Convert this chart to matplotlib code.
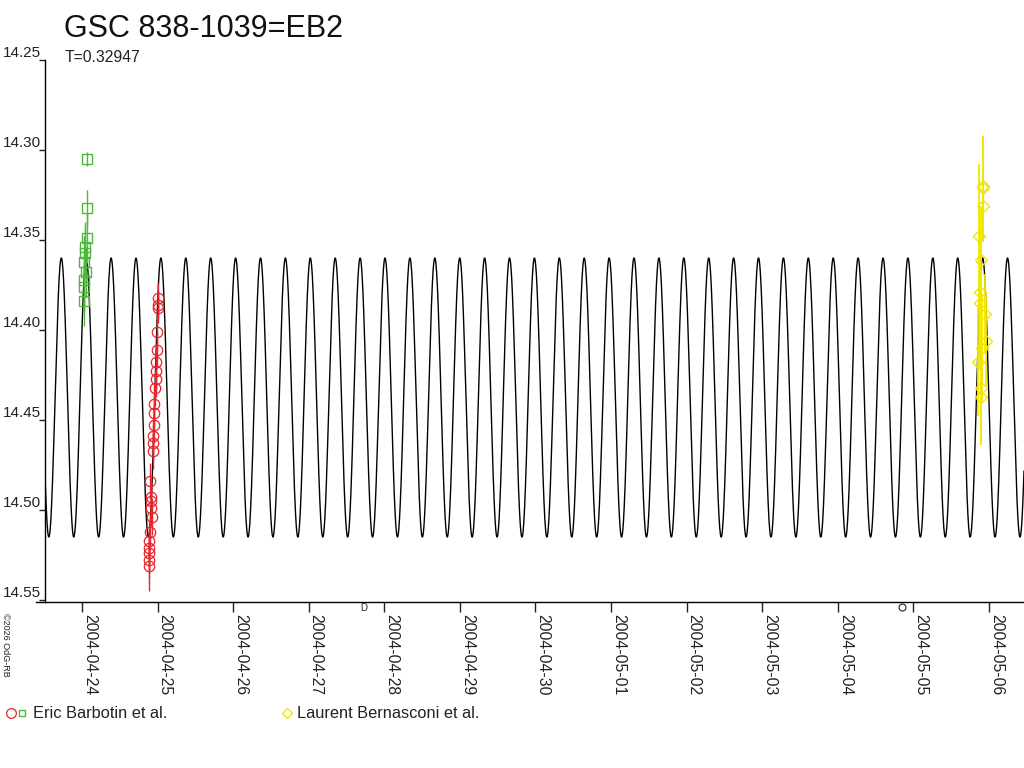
import numpy as np
import pandas as pd
import matplotlib
matplotlib.use("Agg")
import matplotlib.pyplot as plt
import matplotlib.dates as mdates
from matplotlib.lines import Line2D

plt.rcParams['font.family'] = ['Liberation Sans', 'DejaVu Sans']

# ---------------- data ----------------
title = "GSC 838-1039=EB2"
period_label = "T=0.32947"
period = 0.32947          # days
epoch = "2004-04-24 01:20"  # time of maximum brightness (model)
mag_mean = 14.4375
mag_amp = 0.0775

green_times = ["2004-04-24 00:32", "2004-04-24 00:33", "2004-04-24 00:34",
               "2004-04-24 01:10", "2004-04-24 00:38", "2004-04-24 00:57",
               "2004-04-24 00:58", "2004-04-24 01:35", "2004-04-24 01:34",
               "2004-04-24 01:30"]
green_mags = [14.384, 14.376, 14.372, 14.368, 14.362, 14.357, 14.354,
              14.349, 14.332, 14.305]
green_errs = [0.014, 0.014, 0.014, 0.014, 0.014, 0.014, 0.014, 0.014,
              0.010, 0.004]

red_times = ["2004-04-24 21:18", "2004-04-24 21:20", "2004-04-24 21:21",
             "2004-04-24 21:22", "2004-04-24 21:24", "2004-04-24 21:32",
             "2004-04-24 22:19", "2004-04-24 21:54", "2004-04-24 21:56",
             "2004-04-24 21:57", "2004-04-24 21:36", "2004-04-24 22:36",
             "2004-04-24 22:38", "2004-04-24 22:40", "2004-04-24 22:56",
             "2004-04-24 22:57", "2004-04-24 22:58", "2004-04-24 23:08",
             "2004-04-24 23:28", "2004-04-24 23:30", "2004-04-24 23:31",
             "2004-04-24 23:42", "2004-04-24 23:44", "2004-04-25 00:00",
             "2004-04-25 00:02", "2004-04-25 00:03"]
red_mags = [14.531, 14.528, 14.524, 14.521, 14.517, 14.512, 14.504,
            14.499, 14.495, 14.493, 14.484, 14.467, 14.463, 14.459,
            14.453, 14.446, 14.441, 14.432, 14.427, 14.423, 14.418,
            14.411, 14.401, 14.388, 14.386, 14.382]
red_errs = [0.014, 0.010, 0.010, 0.010, 0.010, 0.010, 0.010, 0.010,
            0.010, 0.010, 0.010, 0.010, 0.010, 0.010, 0.010, 0.010,
            0.010, 0.010, 0.010, 0.010, 0.010, 0.010, 0.010, 0.008,
            0.008, 0.008]

yellow_times = ["2004-05-05 22:12", "2004-05-05 22:15", "2004-05-05 21:58",
                "2004-05-05 20:44", "2004-05-05 21:35", "2004-05-05 21:11",
                "2004-05-05 21:13", "2004-05-05 22:44", "2004-05-05 23:05",
                "2004-05-05 21:52", "2004-05-05 20:37", "2004-05-05 21:26",
                "2004-05-05 21:28"]
yellow_mags = [14.320, 14.321, 14.331, 14.348, 14.361, 14.379, 14.385,
               14.391, 14.406, 14.410, 14.418, 14.432, 14.437]
yellow_errs = [0.028, 0.028, 0.020, 0.040, 0.030, 0.043, 0.030, 0.022,
               0.025, 0.030, 0.030, 0.030, 0.027]

moon_times = ["2004-04-27 17:32", "2004-05-04 20:33"]
moon_symbols = ["D", "O"]

y_ticks = [14.25, 14.30, 14.35, 14.40, 14.45, 14.50, 14.55]
x_range = ("2004-04-23 12:15", "2004-05-06 11:08")
y_range = (14.5511, 14.25)
tick_days = pd.date_range("2004-04-24", "2004-05-06", freq="D")

legend_entries = ["Eric Barbotin et al.", "Laurent Bernasconi et al."]
copyright_text = "\u00a92026 OdG-RB"

# ---------------- figure ----------------
W, H = 1024, 768
fig = plt.figure(figsize=(W / 100, H / 100), dpi=100)
fig.patch.set_facecolor("white")
ax = fig.add_axes([45 / W, 166 / H, (W - 45) / W, (602 - 60) / H])

def to_num(lst):
    return mdates.date2num(pd.to_datetime(lst))

x0, x1 = to_num(list(x_range))
t = np.linspace(x0, x1, 8000)
t_ep = to_num([epoch])[0]
model = mag_mean - mag_amp * np.cos(2 * np.pi * (t - t_ep) / period)
ax.plot(t, model, color="black", lw=1.0, zorder=2)

GREEN = "#4fb83c"
RED = "#e8242c"
YELLOW = "#f2e600"

gx = to_num(green_times)
ax.errorbar(gx, green_mags, yerr=green_errs, fmt="none", ecolor=GREEN,
            elinewidth=1.0, capsize=0, zorder=3)
ax.plot(gx, green_mags, ls="none", marker="s", ms=6.5, mfc="none",
        mec=GREEN, mew=1.0, zorder=4)

rx = to_num(red_times)
ax.errorbar(rx, red_mags, yerr=red_errs, fmt="none", ecolor=RED,
            elinewidth=1.0, capsize=0, zorder=3)
ax.plot(rx, red_mags, ls="none", marker="o", ms=7.5, mfc="none",
        mec=RED, mew=0.9, zorder=4)

yx = to_num(yellow_times)
ax.errorbar(yx, yellow_mags, yerr=yellow_errs, fmt="none", ecolor=YELLOW,
            elinewidth=1.3, capsize=0, zorder=3)
ax.plot(yx, yellow_mags, ls="none", marker="D", ms=6, mfc="none",
        mec=YELLOW, mew=1.0, zorder=4)

ax.set_xlim(x0, x1)
ax.set_ylim(*y_range)

# spines
for s in ["top", "right"]:
    ax.spines[s].set_visible(False)
for s in ["left", "bottom"]:
    ax.spines[s].set_linewidth(1.0)
    ax.spines[s].set_color("black")

# y ticks
ax.set_yticks(y_ticks)
ax.set_yticklabels([f"{v:.2f}" for v in y_ticks])
ax.tick_params(axis="y", direction="out", length=4, width=1.0, pad=-1,
               labelsize=11, colors="#222222")
for lbl in ax.get_yticklabels():
    lbl.set_verticalalignment("bottom")

# x ticks
ax.set_xticks(mdates.date2num(tick_days))
ax.xaxis.set_major_formatter(mdates.DateFormatter("%Y-%m-%d"))
ax.tick_params(axis="x", direction="out", length=7.5, width=1.0, pad=1,
               labelsize=11.3, colors="#222222")
for lbl in ax.get_xticklabels():
    lbl.set_rotation(-90)
    lbl.set_horizontalalignment("left")
    lbl.set_verticalalignment("top")
    lbl.set_rotation_mode("default")

# moon phase marks under axis
mx = to_num(moon_times)
for xv, sym in zip(mx, moon_symbols):
    if sym == "O":
        ax.plot([xv], [y_range[0] + 5 / 1800], marker="o", ms=5, mfc="none",
                mec="#222222", mew=0.8, clip_on=False, zorder=5)
    else:
        ax.text(xv, y_range[0] + 1 / 1800, sym, fontsize=7, ha="center",
                va="top", color="#222222", clip_on=False)

# extend bottom axis line slightly left
fig.add_artist(Line2D([36 / W, 45 / W], [1 - 602 / H, 1 - 602 / H],
                      color="black", lw=1.0, transform=fig.transFigure))

# title texts
fig.text(64 / W, 1 - 37 / H, title, fontsize=22, ha="left",
         va="baseline", color="#111111")
fig.text(65 / W, 1 - 62 / H, period_label, fontsize=11.3, ha="left",
         va="baseline", color="#222222")

# copyright
fig.text(5 / W, 1 - 613 / H, copyright_text, fontsize=6.5, rotation=-90,
         ha="center", va="top", color="#222222")

# legend
ly = 1 - 713 / H
fig.add_artist(Line2D([11 / W], [ly], marker="o", ms=7, mfc="none",
                      mec=RED, mew=0.9, transform=fig.transFigure))
fig.add_artist(Line2D([22 / W], [ly], marker="s", ms=5, mfc="none",
                      mec=GREEN, mew=1.0, transform=fig.transFigure))
fig.text(33 / W, ly, legend_entries[0], fontsize=11.8, ha="left",
         va="center", color="#222222")
fig.add_artist(Line2D([287 / W], [ly], marker="D", ms=5, mfc="none",
                      mec=YELLOW, mew=1.0, transform=fig.transFigure))
fig.text(297 / W, ly, legend_entries[1], fontsize=11.8, ha="left",
         va="center", color="#222222")

fig.savefig("out.png", dpi=100, facecolor="white")
